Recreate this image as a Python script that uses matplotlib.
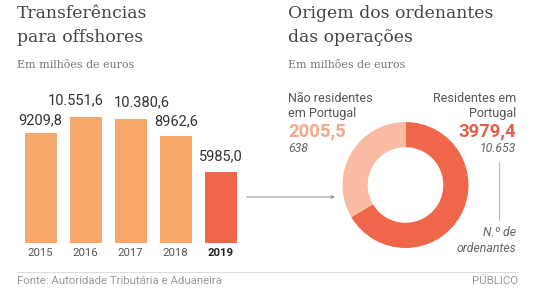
import matplotlib.pyplot as plt
from matplotlib.patches import FancyArrowPatch
from matplotlib.lines import Line2D

# data
years = ['2015', '2016', '2017', '2018', '2019']
transfers = [9209.8, 10551.6, 10380.6, 8962.6, 5985.0]
value_labels = ['9209,8', '10.551,6', '10.380,6', '8962,6', '5985,0']

origin_names = ['Residentes em\nPortugal', 'Não residentes\nem Portugal']
origin_values = [3979.4, 2005.5]
origin_labels = ['3979,4', '2005,5']
origin_counts = ['10.653', '638']

W, H = 560, 293
fig = plt.figure(figsize=(W / 100, H / 100), dpi=100)
fig.patch.set_facecolor('white')

SANS = ['Roboto', 'DejaVu Sans']
SERIF = ['DejaVu Serif']
light = '#f7a86b'
dark = '#f0664a'


def fx(px):
    return px / W


def fy(py):
    return 1 - py / H


def txt(x, y, s, **kw):
    kw.setdefault('family', SANS)
    kw.setdefault('va', 'center')
    fig.text(fx(x), fy(y), s, **kw)


# titles
for x0, lines in [(17, ['Transferências', 'para offshores']),
                  (288, ['Origem dos ordenantes', 'das operações'])]:
    txt(x0, 14, lines[0], family=SERIF, fontsize=12.4, color='#444444')
    txt(x0, 38, lines[1], family=SERIF, fontsize=12.4, color='#444444')
    txt(x0, 65, 'Em milhões de euros', family=SERIF, fontsize=7.9, color='#777777')

# bar chart
ymax = 12000
bottom_px, scale = 243, 126 / 10551.6
ax = fig.add_axes([fx(18), 1 - bottom_px / H, fx(225), ymax * scale / H])
colors = [light] * 4 + [dark]
ax.bar(range(len(years)), transfers, width=32 / 45, color=colors)
ax.set_xlim(-0.5, 4.5)
ax.set_ylim(0, ymax)
ax.axis('off')

label_dx = [0, -10, 11, 1, 0]
label_dy = [6, 10, 10, 8, 8]
for i, v in enumerate(transfers):
    ax.annotate(value_labels[i], (i, v), xytext=(label_dx[i] * 0.72, label_dy[i] * 0.72),
                textcoords='offset points', ha='center', va='bottom',
                family=SANS, fontsize=10.5, color='#333333')
    ax.annotate(years[i], (i, 0), xytext=(0, -10 * 0.72), textcoords='offset points',
                ha='center', va='center', family=SANS, fontsize=8.2,
                color='#222222' if i == 4 else '#555555',
                fontweight='bold' if i == 4 else 'normal')

# donut
cx, cy, r = 405.5, 185, 63
pax = fig.add_axes([fx(cx - r), 1 - (cy + r) / H, fx(2 * r), 2 * r / H])
pax.pie(origin_values, colors=[dark, '#f9bba2'], startangle=90, counterclock=False,
        radius=1, wedgeprops=dict(width=0.4, edgecolor='none'))
pax.set_xlim(-1, 1)
pax.set_ylim(-1, 1)
pax.set_aspect('auto')
pax.axis('off')

# connector arrow
fig.add_artist(FancyArrowPatch((fx(244), fy(197)), (fx(338), fy(197)),
                               transform=fig.transFigure, arrowstyle='-|>',
                               mutation_scale=5, color='#999999', lw=0.8))

# donut annotations
n1, n2 = origin_names[1].split('\n')
txt(288, 99, n1, fontsize=9, color='#555555')
txt(288, 113, n2, fontsize=9, color='#555555')
txt(288, 131, origin_labels[1], fontsize=13.3, fontweight='bold', color='#f3a88c')
txt(288, 148, origin_counts[1], fontsize=8.8, style='italic', color='#666666')

r1, r2 = origin_names[0].split('\n')
txt(516, 99, r1, fontsize=9, color='#555555', ha='right')
txt(516, 113, r2, fontsize=9, color='#555555', ha='right')
txt(516, 131, origin_labels[0], fontsize=13.3, fontweight='bold', color='#e0604a', ha='right')
txt(516, 148, origin_counts[0], fontsize=8.8, style='italic', color='#666666', ha='right')

fig.add_artist(Line2D([fx(499), fx(499)], [fy(162), fy(220)], color='#bbbbbb', lw=0.8))
txt(516, 233, 'N.º de', fontsize=8.8, style='italic', color='#666666', ha='right')
txt(516, 248, 'ordenantes', fontsize=8.8, style='italic', color='#666666', ha='right')

# footer
fig.add_artist(Line2D([fx(17), fx(518)], [fy(272), fy(272)], color='#dddddd', lw=0.8))
txt(17, 281, 'Fonte: Autoridade Tributária e Aduaneira', fontsize=8.2, color='#999999')
txt(518, 281, 'PÚBLICO', fontsize=8.2, color='#999999', ha='right')

fig.savefig('out.png', dpi=100, facecolor='white')
